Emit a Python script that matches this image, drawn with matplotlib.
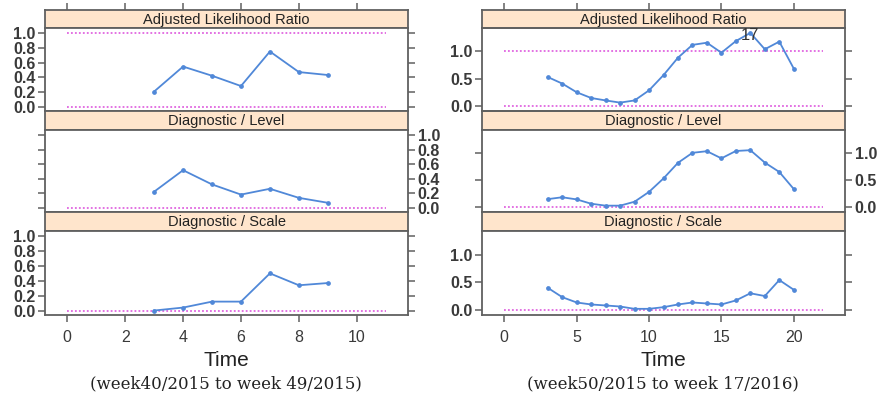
import numpy as np
import matplotlib
matplotlib.use("Agg")
import matplotlib.pyplot as plt

# week index and series for the two periods
left_weeks = [3, 4, 5, 6, 7, 8, 9]
left_alr = [0.205, 0.545, 0.42, 0.28, 0.75, 0.47, 0.43]
left_level = [0.22, 0.516, 0.32, 0.18, 0.26, 0.135, 0.067]
left_scale = [0.0, 0.04, 0.12, 0.12, 0.50, 0.34, 0.37]

right_weeks = [3, 4, 5, 6, 7, 8, 9, 10, 11, 12, 13, 14, 15, 16, 17, 18, 19, 20]
right_alr = [0.53, 0.41, 0.25, 0.145, 0.10, 0.06, 0.10, 0.285, 0.565, 0.885,
             1.12, 1.16, 0.976, 1.19, 1.34, 1.04, 1.18, 0.685]
right_level = [0.145, 0.18, 0.14, 0.06, 0.024, 0.024, 0.097, 0.28, 0.53, 0.82,
               1.006, 1.036, 0.903, 1.04, 1.055, 0.824, 0.65, 0.333]
right_scale = [0.40, 0.23, 0.133, 0.097, 0.079, 0.06, 0.018, 0.018, 0.048, 0.097,
               0.133, 0.115, 0.097, 0.17, 0.30, 0.25, 0.54, 0.364]

strip_titles = ["Adjusted Likelihood Ratio", "Diagnostic / Level", "Diagnostic / Scale"]
subtitles = ["(week40/2015 to week 49/2015)", "(week50/2015 to week 17/2016)"]

W, H = 883, 397
STRIP_BG = "#ffe5cc"
FRAME = "#606060"
LINE = "#5088d8"
REF = "#e066e0"

plt.rcParams['font.family'] = ['Liberation Sans', 'DejaVu Sans']

fig = plt.figure(figsize=(W / 100, H / 100), dpi=100)


def px_axes(x0, y0, x1, y1):
    # axes from pixel box (top-left origin)
    return fig.add_axes([x0 / W, 1 - y1 / H, (x1 - x0) / W, (y1 - y0) / H])


def style_frame(ax):
    for s in ax.spines.values():
        s.set_color(FRAME)
        s.set_linewidth(1.3)
    ax.tick_params(colors=FRAME, labelcolor="#3a3a3a", length=5, width=1.1)


def draw_block(xl, xr, weeks, series, xlim, ylim, xmax, xticks, yticks, ylabels, label17=None):
    strips = [(10, 28), (111, 130), (212, 231)]
    panels = [(28, 111), (130, 212), (231, 315)]
    top_ax = None
    for i in range(3):
        sa = px_axes(xl, strips[i][0], xr, strips[i][1])
        sa.set_facecolor(STRIP_BG)
        sa.set_xlim(xlim)
        style_frame(sa)
        sa.set_yticks([])
        if i == 0:
            sa.set_xticks(xticks)
            sa.tick_params(axis="x", top=True, bottom=False, labeltop=False, labelbottom=False)
        else:
            sa.set_xticks([])
        sa.text(0.5, 0.45, strip_titles[i], transform=sa.transAxes, ha="center", va="center",
                fontsize=10.5, color="#222222")

        ax = px_axes(xl, panels[i][0], xr, panels[i][1])
        style_frame(ax)
        ax.set_xlim(xlim)
        ax.set_ylim(ylim)
        ax.hlines(0, 0, xmax, colors=REF, linestyles=(0, (1, 1.2)), linewidth=1.3)
        if i == 0:
            ax.hlines(1, 0, xmax, colors=REF, linestyles=(0, (1, 1.2)), linewidth=1.3)
            top_ax = ax
        ax.plot(weeks, series[i], color=LINE, linewidth=1.3, marker="o", markersize=2.4)
        ax.set_yticks(yticks)
        ax.set_yticklabels(ylabels, fontsize=11.5, fontweight="bold")
        if i == 1:
            ax.tick_params(axis="y", left=True, right=True, labelleft=False, labelright=True)
        else:
            ax.tick_params(axis="y", left=True, right=True, labelleft=True, labelright=False)
        ax.tick_params(axis="y", pad=2)
        if i == 2:
            ax.set_xticks(xticks)
            ax.set_xticklabels([str(t) for t in xticks], fontsize=11.5)
            ax.tick_params(axis="x", pad=6)
        else:
            ax.set_xticks([])
    # point label for the peak week, drawn over the strip
    if label17 is not None:
        k = weeks.index(label17)
        top_ax.annotate(str(label17), (weeks[k], series[0][k]), xytext=(0, -2),
                        textcoords="offset points", ha="center", va="center",
                        fontsize=12, color="#333333", annotation_clip=False, zorder=10)
        top_ax.set_zorder(5)
        top_ax.patch.set_visible(False)


# left period
draw_block(45, 408, left_weeks, [left_alr, left_level, left_scale],
           (-0.77, 11.77), (-0.06, 1.07), 11, [0, 2, 4, 6, 8, 10],
           [0, 0.2, 0.4, 0.6, 0.8, 1.0], ["0.0", "0.2", "0.4", "0.6", "0.8", "1.0"])

# right period
draw_block(482, 845, right_weeks, [right_alr, right_level, right_scale],
           (-1.54, 23.54), (-0.094, 1.43), 22, [0, 5, 10, 15, 20],
           [0, 0.5, 1.0], ["0.0", "0.5", "1.0"], label17=17)

for cx, sub in zip([226, 663], subtitles):
    fig.text(cx / W, 1 - 361 / H, "Time", ha="center", va="center", fontsize=15, color="#222222")
    fig.text(cx / W, 1 - 384 / H, sub, ha="center", va="center", fontsize=12,
             family=["DejaVu Serif"], color="#222222")

fig.savefig("out.png", dpi=100)
